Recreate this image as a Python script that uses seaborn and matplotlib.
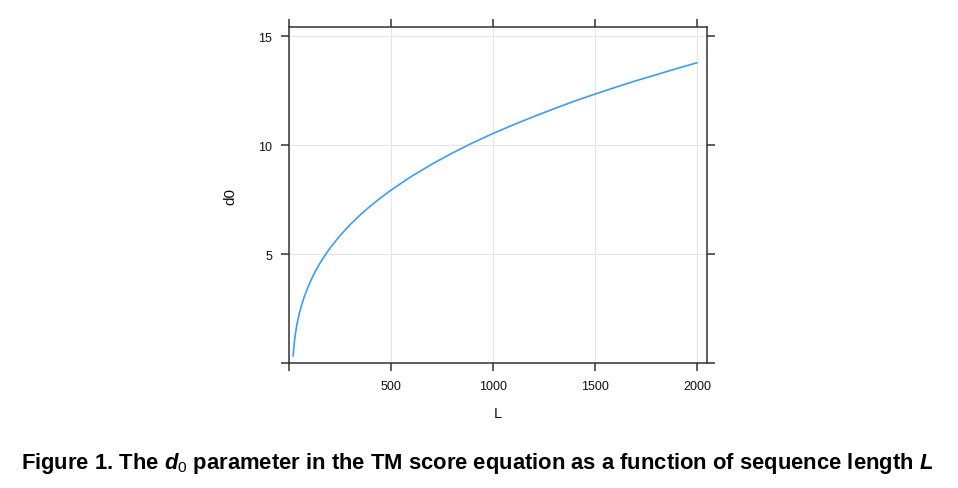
import numpy as np
import pandas as pd
import seaborn as sns
import matplotlib.pyplot as plt

# values
seq_len = [20, 22, 25, 30, 35, 40, 50, 60, 75, 100, 125, 150, 175, 200, 250, 300,
           350, 400, 450, 500, 600, 700, 800, 900, 1000, 1100, 1200, 1300, 1400,
           1500, 1600, 1700, 1800, 1900, 2000]
d0_vals = [0.32, 0.57, 0.87, 1.26, 1.57, 1.83, 2.26, 2.61, 3.05, 3.65, 4.14, 4.56,
           4.93, 5.27, 5.85, 6.36, 6.81, 7.22, 7.59, 7.94, 8.57, 9.13, 9.64, 10.11,
           10.54, 10.94, 11.32, 11.68, 12.03, 12.35, 12.66, 12.96, 13.24, 13.52, 13.79]
x_ticks = [0, 500, 1000, 1500, 2000]
x_labels = ['', '500', '1000', '1500', '2000']
y_ticks = [0, 5, 10, 15]
y_labels = ['', '5', '10', '15']

sns.set_style("white")
plt.rcParams['font.family'] = ['Liberation Sans', 'DejaVu Sans']
plt.rcParams['mathtext.fontset'] = 'custom'
plt.rcParams['mathtext.rm'] = 'Liberation Sans'
plt.rcParams['mathtext.bf'] = 'Liberation Sans:bold'
plt.rcParams['mathtext.bfit'] = 'Liberation Sans:bold:italic'
plt.rcParams['mathtext.it'] = 'Liberation Sans:italic'

df = pd.DataFrame({'L': seq_len, 'd0': d0_vals})

fig = plt.figure(figsize=(9.58, 4.89), dpi=100)
ax = fig.add_axes([0.3017, 0.2556, 0.4363, 0.6871])

sns.lineplot(data=df, x='L', y='d0', ax=ax, color='#3c9cff', linewidth=1.2)

ax.set_xlim(0, 2049)
ax.set_ylim(0, 15.43)
ax.set_xticks(x_ticks)
ax.set_xticklabels(x_labels)
ax.set_yticks(y_ticks)
ax.set_yticklabels(y_labels)
ax.grid(True, color='#e6e6e6', linewidth=0.8)
ax.set_axisbelow(True)

ax.tick_params(axis='both', which='both', direction='out', length=6, width=1.1,
               color='#333333', labelsize=9, labelcolor='#111111',
               top=True, right=True, bottom=True, left=True,
               labeltop=False, labelright=False, pad=6)
for sp in ax.spines.values():
    sp.set_visible(True)
    sp.set_color('#333333')
    sp.set_linewidth(1.1)

ax.set_xlabel('L', fontsize=10.5, color='#111111', labelpad=10)
ax.set_ylabel('d0', fontsize=11, color='#111111', labelpad=15)

fig.text(0.4984, 0.052,
         r'Figure 1. The $\mathbfit{d}_\mathrm{0}$ parameter in the TM score equation '
         r'as a function of sequence length $\mathbfit{L}$',
         ha='center', va='center', fontsize=15.8, fontweight='bold', color='black')

fig.savefig('out.png', dpi=100)
